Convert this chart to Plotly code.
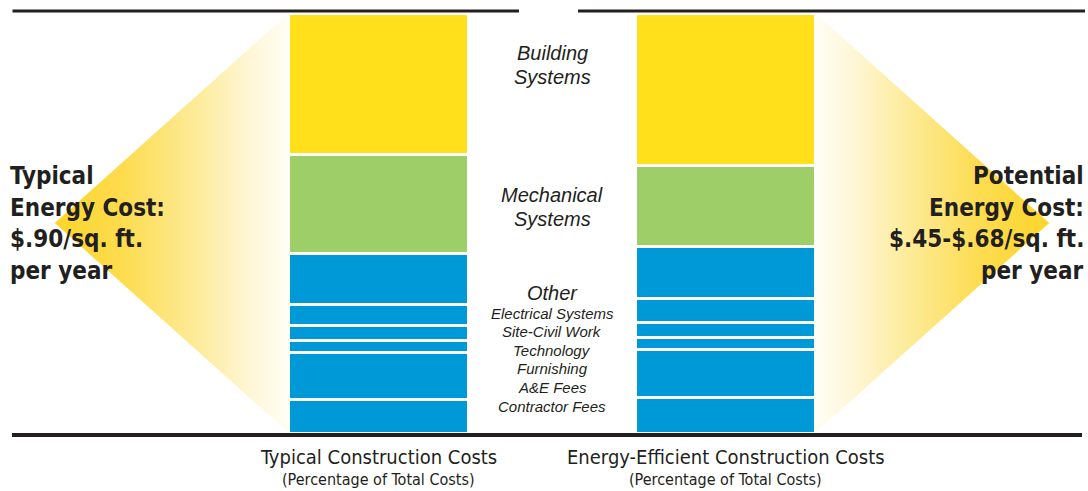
import plotly.graph_objects as go

# ---------------- data ----------------
scenarios = ["Typical Construction Costs", "Energy-Efficient Construction Costs"]
scenario_note = "(Percentage of Total Costs)"
# components listed bottom -> top of each stacked bar
components = ["Contractor Fees", "A&E Fees", "Furnishing", "Technology",
              "Site-Civil Work", "Electrical Systems", "Mechanical Systems", "Building Systems"]
typical_pct = [7.9, 11.3, 2.8, 3.7, 4.8, 12.2, 23.5, 33.8]
efficient_pct = [8.5, 11.3, 2.9, 3.7, 5.7, 12.2, 19.3, 36.4]
component_group = ["Other", "Other", "Other", "Other", "Other", "Other",
                   "Mechanical Systems", "Building Systems"]
other_items = ["Electrical Systems", "Site-Civil Work", "Technology",
               "Furnishing", "A&E Fees", "Contractor Fees"]
left_label = ["Typical", "Energy Cost:", "$.90/sq. ft.", "per year"]
right_label = ["Potential", "Energy Cost:", "$.45-$.68/sq. ft.", "per year"]

# ---------------- style ----------------
group_colors = {"Building Systems": "#FFE01A", "Mechanical Systems": "#9ECE68", "Other": "#0099D8"}
BAR_W = 0.516
W, H = 1088, 491
ML, MR, MT, MB = 0, 0, 13, 58
PH = H - MT - MB
X_RANGE = [-1.0908, 2.0447]
DARK = "#231F20"
NARROW = "Liberation Sans Narrow, Arial Narrow, DejaVu Sans Condensed, sans-serif"
ITAL = "Liberation Sans, Arial, sans-serif"


def py(px):
    """pixel row -> paper y"""
    return (H - MB - px) / PH


fig = go.Figure()

# glow wedges on the outside of each bar
x_pos = list(range(len(scenarios)))
glow_len = 0.675
left_edge = x_pos[0] - BAR_W / 2
right_edge = x_pos[1] + BAR_W / 2
fig.add_trace(go.Scatter(
    x=[left_edge, left_edge - glow_len, left_edge, left_edge],
    y=[0, 50, 100, 0], mode="lines", line=dict(width=0), fill="toself",
    fillgradient=dict(type="horizontal", start=left_edge - glow_len, stop=left_edge,
                      colorscale=[[0, "#FDD52B"], [0.3, "#FDDC50"], [0.6, "#FDEB98"],
                                  [0.85, "#FEF7DA"], [1, "#FFFEF6"]]),
    hoverinfo="skip", showlegend=False))
fig.add_trace(go.Scatter(
    x=[right_edge, right_edge + glow_len, right_edge, right_edge],
    y=[0, 50, 100, 0], mode="lines", line=dict(width=0), fill="toself",
    fillgradient=dict(type="horizontal", start=right_edge, stop=right_edge + glow_len,
                      colorscale=[[0, "#FFFEF6"], [0.15, "#FEF7DA"], [0.4, "#FDEB98"],
                                  [0.7, "#FDDC50"], [1, "#FDD52B"]]),
    hoverinfo="skip", showlegend=False))

for i, comp in enumerate(components):
    fig.add_trace(go.Bar(
        x=x_pos, y=[typical_pct[i], efficient_pct[i]], name=comp, width=BAR_W,
        marker=dict(color=group_colors[component_group[i]], line=dict(color="white", width=3)),
        hoverinfo="skip", showlegend=False))

ann = []


def mid(text, ypx, size):
    ann.append(dict(x=0.5, y=py(ypx), xref="x", yref="paper", text=text, showarrow=False,
                    xanchor="center", yanchor="middle",
                    font=dict(family=ITAL, size=size, color=DARK, style="italic")))


# middle labels
mid("Building", 53, 20)
mid("Systems", 77, 20)
mid("Mechanical", 195, 20)
mid("Systems", 219, 20)
mid("Other", 293, 20)
for k, item in enumerate(other_items):
    mid(item, 313 + 18.6 * k, 15)

# bottom category labels
for xi, name in zip(x_pos, scenarios):
    ann.append(dict(x=xi, y=py(457), xref="x", yref="paper", text=name, showarrow=False,
                    yanchor="middle", font=dict(family=NARROW, size=20, color=DARK)))
    ann.append(dict(x=xi, y=py(479), xref="x", yref="paper", text=scenario_note, showarrow=False,
                    yanchor="middle", font=dict(family=NARROW, size=16, color=DARK)))

# side labels
line_px = [176, 207.5, 239, 270.5]
for t, yp in zip(left_label, line_px):
    ann.append(dict(x=8 / W, y=py(yp), xref="paper", yref="paper", text=t, showarrow=False,
                    xanchor="left", yanchor="middle",
                    font=dict(family=NARROW, size=24, color=DARK, weight="bold")))
for t, yp in zip(right_label, line_px):
    ann.append(dict(x=1086 / W, y=py(yp), xref="paper", yref="paper", text=t, showarrow=False,
                    xanchor="right", yanchor="middle",
                    font=dict(family=NARROW, size=24, color=DARK, weight="bold")))

shapes = [
    dict(type="line", xref="paper", yref="paper", x0=12.5 / W, x1=519 / W,
         y0=py(11), y1=py(11), line=dict(color=DARK, width=3)),
    dict(type="line", xref="paper", yref="paper", x0=578 / W, x1=1085 / W,
         y0=py(11), y1=py(11), line=dict(color=DARK, width=3)),
    dict(type="line", xref="paper", yref="paper", x0=12 / W, x1=1082 / W,
         y0=py(435), y1=py(435), line=dict(color=DARK, width=4)),
]

fig.update_layout(
    width=W, height=H, autosize=False,
    margin=dict(l=ML, r=MR, t=MT, b=MB, pad=0),
    barmode="stack", plot_bgcolor="white", paper_bgcolor="white",
    xaxis=dict(range=X_RANGE, visible=False, fixedrange=True),
    yaxis=dict(range=[0, 100], visible=False, fixedrange=True),
    annotations=ann, shapes=shapes, showlegend=False,
)

fig.write_html("out.html", config={"displayModeBar": False, "staticPlot": True},
               post_script="document.body.style.margin='0px';")
